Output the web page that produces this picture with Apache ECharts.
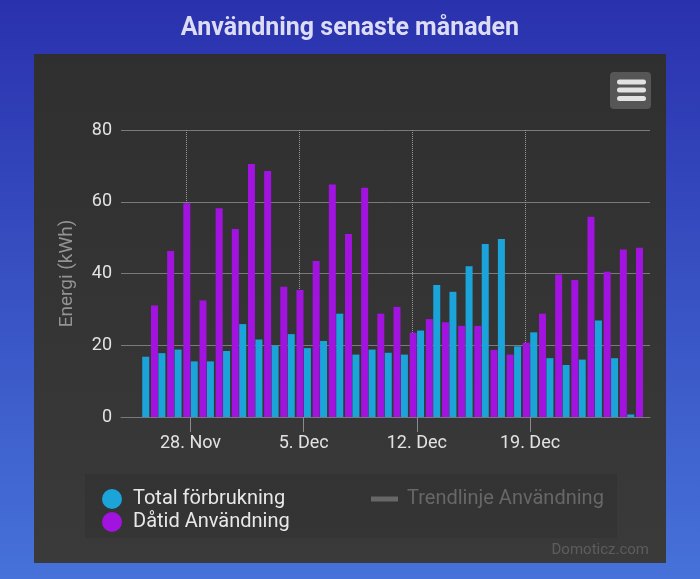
<!DOCTYPE html>
<html>
<head>
<meta charset="utf-8">
<script src="https://cdn.jsdelivr.net/npm/echarts@6/dist/echarts.min.js"></script>
<style>
html,body{margin:0;padding:0;background:#2b33ae;}
#chart{width:700px;height:579px;}
</style>
</head>
<body>
<div id="chart"></div>
<script>
// Days (one column pair per day)
const days = ['25. Nov','26. Nov','27. Nov','28. Nov','29. Nov','30. Nov','1. Dec','2. Dec','3. Dec','4. Dec',
  '5. Dec','6. Dec','7. Dec','8. Dec','9. Dec','10. Dec','11. Dec','12. Dec','13. Dec','14. Dec',
  '15. Dec','16. Dec','17. Dec','18. Dec','19. Dec','20. Dec','21. Dec','22. Dec','23. Dec','24. Dec','25. Dec'];
// Total förbrukning (kWh)
const totalUsage = [16.8,17.8,18.8,15.5,15.5,18.4,25.9,21.6,19.9,23.1,
  19.2,21.2,28.8,17.4,18.8,17.9,17.4,24.1,36.8,34.9,
  42.0,48.2,49.6,19.7,23.6,16.4,14.5,16.0,26.9,16.4,0.7];
// Dåtid Användning (kWh)
const pastUsage = [31.1,46.3,59.6,32.5,58.2,52.4,70.5,68.6,36.3,35.4,
  43.5,64.8,51.0,63.9,28.8,30.7,23.5,27.3,26.4,25.4,
  25.4,18.7,17.4,20.7,28.8,39.7,38.2,55.8,40.5,46.7,47.2];
// Trendline (hidden in legend)
const trendUsage = [];
// X tick labels
const tickLabels = ['28. Nov','5. Dec','12. Dec','19. Dec'];
// Y ticks
const yTicks = [0,20,40,60,80];

const tickPos = tickLabels.map(l => days.indexOf(l));
const labelByPos = {};
tickPos.forEach((p,i) => { labelByPos[p] = tickLabels[i]; });

const FONT = 'Roboto';
const chart = echarts.init(document.getElementById('chart'));
chart.setOption({
  animation: false,
  backgroundColor: {
    type: 'linear', x: 0, y: 0, x2: 0, y2: 1,
    colorStops: [{offset: 0, color: '#2a31ad'}, {offset: 1, color: '#4672d9'}]
  },
  title: {
    text: 'Användning senaste månaden',
    left: 'center', top: 11,
    textStyle: {color: '#dcdcf5', fontSize: 25, fontWeight: 'bold', fontFamily: FONT}
  },
  graphic: [
    {type: 'rect', z: -10, shape: {x: 34, y: 54, width: 632, height: 509},
     style: {fill: {type: 'linear', x: 0, y: 0, x2: 0, y2: 1,
       colorStops: [{offset: 0, color: '#2f2f2f'}, {offset: 1, color: '#3a3a3a'}]}}},
    {type: 'rect', z: -9, shape: {x: 85, y: 474, width: 532, height: 64},
     style: {fill: 'rgba(0,0,0,0.08)'}},
    {type: 'rect', shape: {x: 610, y: 72, width: 41, height: 37, r: 4}, style: {fill: '#565656'}},
    {type: 'rect', shape: {x: 617, y: 79.5, width: 29, height: 5, r: 2.5}, style: {fill: '#e2e2e2'}},
    {type: 'rect', shape: {x: 617, y: 87.5, width: 29, height: 5, r: 2.5}, style: {fill: '#e2e2e2'}},
    {type: 'rect', shape: {x: 617, y: 96, width: 29, height: 5, r: 2.5}, style: {fill: '#e2e2e2'}},
    {type: 'text', x: 649, y: 550,
     style: {text: 'Domoticz.com', align: 'right', verticalAlign: 'middle',
       fill: '#5d5d5d', font: '15px Roboto'}}
  ],
  legend: [
    {
      data: ['Total förbrukning', 'Dåtid Användning'],
      orient: 'vertical', left: 97, top: 484,
      icon: 'circle', itemWidth: 20, itemHeight: 20, itemGap: 3,
      textStyle: {color: '#e8e8e8', fontSize: 20, fontFamily: FONT, padding: [0, 0, 0, 6]}
    },
    {
      data: ['Trendlinje Användning'],
      left: 366, top: 484,
      icon: 'rect', itemWidth: 27, itemHeight: 5,
      inactiveColor: '#676767', inactiveBorderColor: '#676767',
      selected: {'Trendlinje Användning': false},
      textStyle: {color: '#676767', fontSize: 20, fontFamily: FONT, padding: [0, 0, 0, 4]}
    }
  ],
  grid: {left: 121, right: 50, top: 130, bottom: 162},
  xAxis: {
    type: 'value', min: -1.3, max: 31.42,
    axisLine: {show: true, lineStyle: {color: '#7a7a7a', width: 1}},
    axisTick: {show: true, customValues: tickPos, length: 15, lineStyle: {color: '#8a8a8a'}},
    axisLabel: {show: true, customValues: tickPos, margin: 17, color: '#e2e2e2',
      fontSize: 18, fontFamily: FONT, formatter: v => labelByPos[Math.round(v)] || ''},
    splitLine: {show: false}
  },
  yAxis: {
    type: 'value', min: yTicks[0], max: yTicks[yTicks.length - 1], interval: 20,
    name: 'Energi (kWh)', nameLocation: 'middle', nameGap: 44,
    nameTextStyle: {color: '#939393', fontSize: 19, fontFamily: FONT},
    axisLine: {show: false}, axisTick: {show: false},
    axisLabel: {color: '#e2e2e2', fontSize: 18, fontFamily: FONT, margin: 9},
    splitLine: {lineStyle: {color: '#7a7a7a', width: 1}}
  },
  series: [
    {
      name: 'Total förbrukning', type: 'bar', z: 3,
      data: totalUsage.map((v, i) => [i + 0.5, v]),
      barWidth: 7, barGap: '25%',
      itemStyle: {color: '#1ba4da'},
      markLine: {
        silent: true, symbol: 'none', label: {show: false}, z: 1,
        lineStyle: {color: '#9a9a9a', type: 'dotted', width: 1},
        data: tickPos.map(p => ({xAxis: p}))
      }
    },
    {
      name: 'Dåtid Användning', type: 'bar', z: 3,
      data: pastUsage.map((v, i) => [i + 0.5, v]),
      barWidth: 7, barGap: '25%',
      itemStyle: {color: '#a313e0'}
    },
    {
      name: 'Trendlinje Användning', type: 'line',
      data: trendUsage, symbol: 'none',
      itemStyle: {color: '#9a9a9a'}, lineStyle: {color: '#9a9a9a'}
    }
  ]
});
</script>
</body>
</html>
